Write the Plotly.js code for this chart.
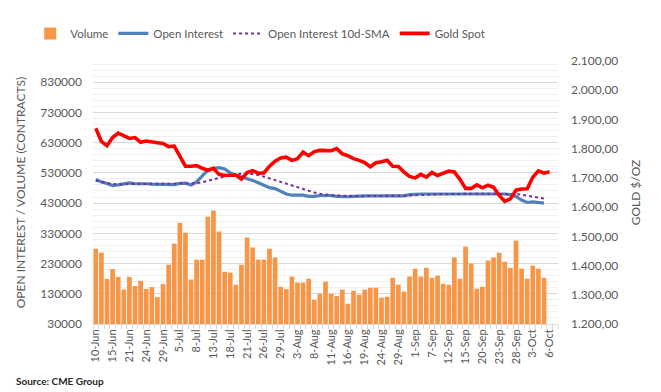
<!DOCTYPE html>
<html>
<head>
<meta charset="utf-8">
<script src="https://cdn.plot.ly/plotly-3.0.1.min.js"></script>
<style>
html,body{margin:0;padding:0;background:#fff;}
#chart{width:661px;height:392px;}
</style>
</head>
<body>
<div id="chart"></div>
<script>
// Trading-day categories (2022)
const dates = [
 "10-Jun","13-Jun","14-Jun","15-Jun","16-Jun","17-Jun","21-Jun","22-Jun","23-Jun","24-Jun","27-Jun","28-Jun","29-Jun","30-Jun",
 "1-Jul","5-Jul","6-Jul","7-Jul","8-Jul","11-Jul","12-Jul","13-Jul","14-Jul","15-Jul","18-Jul","19-Jul","20-Jul","21-Jul","22-Jul","25-Jul","26-Jul","27-Jul","28-Jul","29-Jul",
 "1-Aug","2-Aug","3-Aug","4-Aug","5-Aug","8-Aug","9-Aug","10-Aug","11-Aug","12-Aug","15-Aug","16-Aug","17-Aug","18-Aug","19-Aug","22-Aug","23-Aug","24-Aug","25-Aug","26-Aug","29-Aug","30-Aug","31-Aug",
 "1-Sep","2-Sep","6-Sep","7-Sep","8-Sep","9-Sep","12-Sep","13-Sep","14-Sep","15-Sep","16-Sep","19-Sep","20-Sep","21-Sep","22-Sep","23-Sep","26-Sep","27-Sep","28-Sep","29-Sep","30-Sep",
 "3-Oct","4-Oct","5-Oct","6-Oct","7-Oct"
];

const volume = [
 279000,266000,179000,212000,186000,144000,186000,156000,173000,146000,
 152000,119000,162000,226000,296000,365000,332000,177000,243000,243000,
 385000,405000,336000,203000,200000,160000,226000,316000,283000,243000,
 243000,279000,250000,153000,145000,187000,167000,167000,180000,110000,
 130000,170000,130000,123000,144000,97000,140000,127000,144000,150000,
 150000,117000,120000,183000,160000,137000,187000,213000,187000,216000,
 183000,190000,163000,160000,250000,180000,286000,230000,147000,153000,
 240000,250000,266000,236000,216000,306000,213000,180000,223000,213000,
 183000
];

const openInterest = [
 508000,500000,495000,488000,490000,494000,497000,494000,495000,494000,
 493000,493000,493000,491000,491000,495000,496000,490000,500000,520000,
 538000,545000,547000,543000,530000,522000,516000,512000,505000,497000,
 488000,481000,478000,468000,460000,456000,455000,456000,452000,452000,
 455000,455000,455000,452000,451000,451000,452000,454000,454000,454000,
 454000,454000,454000,454000,454000,454000,458000,460000,460000,460000,
 460000,460000,460000,460000,460000,462000,461000,460000,462000,462000,
 462000,462000,462000,460000,458000,452000,440000,432000,434000,433000,
 430000
];

const oiSMA10 = [
 505000,500000,496000,493000,492000,492000,493000,493000,494000,494000,
 494000,494000,494000,493000,493000,493000,493000,493000,495000,499000,
 503000,508000,513000,518000,522000,525000,527000,527000,526000,523000,
 518000,512000,506000,500000,494000,488000,482000,476000,470000,465000,
 461000,458000,456000,455000,454000,453000,453000,453000,453000,453000,
 453000,453000,453000,454000,454000,454000,455000,456000,457000,458000,
 459000,460000,460000,460000,460000,461000,461000,461000,461000,461000,
 462000,462000,462000,462000,461000,460000,458000,455000,452000,448000,
 445000
];

const goldSpot = [
 1870,1825,1810,1838,1853,1845,1835,1838,1822,1826,
 1822,1820,1818,1807,1809,1775,1740,1740,1742,1733,
 1726,1733,1712,1708,1708,1710,1696,1718,1725,1716,
 1717,1740,1757,1768,1771,1760,1766,1788,1776,1790,
 1794,1795,1793,1800,1782,1776,1766,1760,1752,1738,
 1752,1755,1760,1740,1739,1720,1705,1700,1712,1703,
 1719,1708,1717,1723,1720,1695,1664,1664,1676,1666,
 1675,1668,1640,1620,1628,1658,1662,1663,1702,1724,
 1716,1721
];

// every third category gets a label
const tickText = dates.map((d, i) => (i % 3 === 0 && i <= 81) ? d : "");

const FONT = "Lato, 'Open Sans', sans-serif";
const GREY = "#595959";

const traces = [
 {type:"bar", name:"Volume", x:dates.slice(0, volume.length), y:volume,
  marker:{color:"#F79646"}, yaxis:"y"},
 {type:"scatter", mode:"lines", name:"Open Interest", x:dates.slice(0, openInterest.length), y:openInterest,
  line:{color:"#4F81BD", width:3.2}, yaxis:"y"},
 {type:"scatter", mode:"lines", name:"Open Interest 10d-SMA", x:dates.slice(0, oiSMA10.length), y:oiSMA10,
  line:{color:"#7030A0", width:2, dash:"dot"}, yaxis:"y"},
 {type:"scatter", mode:"lines", name:"Gold Spot", x:dates.slice(0, goldSpot.length), y:goldSpot,
  line:{color:"#FF0000", width:3.6}, yaxis:"y2"}
];

const layout = {
 width:661, height:392,
 margin:{l:93, r:103, t:61, b:68},
 paper_bgcolor:"#fff", plot_bgcolor:"#fff",
 separators:",.",
 font:{family:FONT, color:GREY, size:12},
 bargap:0.16,
 showlegend:true,
 legend:{orientation:"h", x:-0.135, xanchor:"left", y:1.105, yanchor:"middle",
   font:{family:FONT, size:11.5, color:GREY}, traceorder:"normal", itemwidth:30},
 xaxis:{type:"category", categoryorder:"array", categoryarray:dates,
   range:[-0.5, dates.length-0.5],
   tickvals:dates, ticktext:tickText, tickangle:-90, tickson:"boundaries",
   ticks:"outside", ticklen:4, tickcolor:"#d9d9d9",
   showline:true, linecolor:"#d9d9d9", linewidth:1,
   showgrid:false, tickfont:{size:11, family:FONT, color:GREY}, automargin:false},
 yaxis:{range:[30000, 900000], tick0:30000, dtick:100000, tickformat:"d",
   showgrid:true, gridcolor:"#d9d9d9", gridwidth:1, zeroline:false,
   minor:{tick0:30000, dtick:20000, showgrid:true, gridcolor:"#f0f0f0", gridwidth:1},
   tickfont:{size:12, family:FONT, color:GREY}, ticks:"", ticklabelstandoff:10,
   title:{text:"OPEN INTEREST / VOLUME (CONTRACTS)", font:{size:12, family:FONT, color:GREY}, standoff:12},
   automargin:false},
 yaxis2:{overlaying:"y", side:"right", range:[1200, 2100], dtick:100, tick0:1200,
   tickformat:",.2f", showgrid:false, zeroline:false,
   tickfont:{size:12, family:FONT, color:GREY}, ticks:"", ticklabelstandoff:12,
   title:{text:"GOLD $/OZ", font:{size:12, family:FONT, color:GREY}, standoff:14},
   automargin:false},
 annotations:[{text:"Source: CME Group", xref:"paper", yref:"paper",
   x:-0.17, y:-0.216, xanchor:"left", yanchor:"middle", showarrow:false,
   font:{size:10, family:FONT, color:"#262626", weight:"bold"}}]
};

Plotly.newPlot("chart", traces, layout, {displayModeBar:false, staticPlot:true});
</script>
</body>
</html>
